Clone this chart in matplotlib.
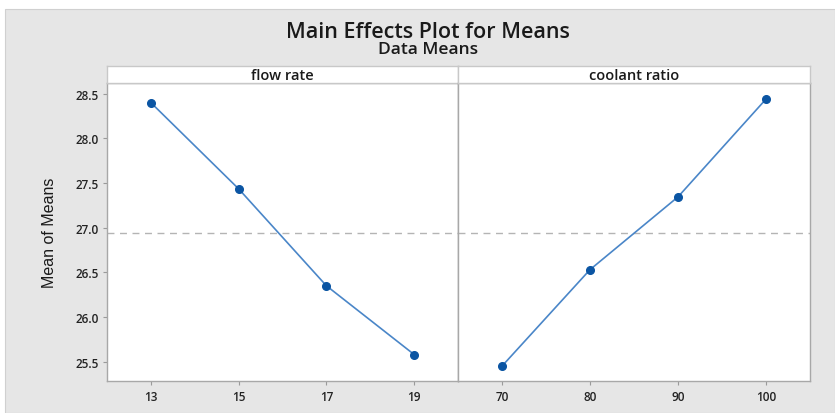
import matplotlib
matplotlib.use("Agg")
import matplotlib.pyplot as plt
from matplotlib.patches import Rectangle
import numpy as np

title = "Main Effects Plot for Means"
subtitle = "Data Means"
ylabel = "Mean of Means"
factors = ["flow rate", "coolant ratio"]
flow_levels = ["13", "15", "17", "19"]
flow_means = [28.40, 27.435, 26.35, 25.58]
coolant_levels = ["70", "80", "90", "100"]
coolant_means = [25.45, 26.53, 27.345, 28.44]
grand_mean = 26.94
yticks = [25.5, 26.0, 26.5, 27.0, 27.5, 28.0, 28.5]

W, H = 835, 414
fig = plt.figure(figsize=(W / 100, H / 100), dpi=100)
fig.patch.set_facecolor("white")
bg = Rectangle((5 / W, 0), 1 - 5 / W, 1 - 10 / H, transform=fig.transFigure,
               facecolor="#e6e6e6", edgecolor="#d0d0d0", lw=0.8, zorder=-10)
fig.add_artist(bg)

fam = ["Open Sans", "DejaVu Sans"]
fig.text(428 / W, 1 - 32.5 / H, title, ha="center", va="center", fontsize=15.5, family=fam,
         weight="semibold", color="#1a1a1a")
fig.text(428 / W, 1 - 50 / H, subtitle, ha="center", va="center", fontsize=12.5, family=fam,
         weight="semibold", color="#1a1a1a")

x0, xm, x1 = 107 / W, 458 / W, 810 / W
yb, yt, ys = 1 - 382.3 / H, 1 - 84 / H, 1 - 67 / H

line_c = "#4a86c8"
mark_c = "#0b55a3"
spine_c = "#a8a8a8"

data = [(flow_levels, flow_means), (coolant_levels, coolant_means)]
for i, (levels, means) in enumerate(data):
    left = x0 if i == 0 else xm
    width = (xm - x0) if i == 0 else (x1 - xm)
    ax = fig.add_axes([left, yb, width, yt - yb])
    ax.set_facecolor("white")
    pos = np.arange(len(levels))
    ax.plot(pos, means, color=line_c, lw=1.2, zorder=3)
    ax.plot(pos, means, "o", color=mark_c, ms=5.5, zorder=4)
    ax.axhline(grand_mean, color="#b4b4b4", lw=1.0, ls=(0, (5, 4)), zorder=2)
    ax.set_xlim(-0.5, 3.5)
    ax.set_ylim(25.28, 28.62)
    ax.set_xticks(pos)
    ax.set_xticklabels(levels, family=fam, fontsize=8.5, weight="semibold", color="#222222")
    ax.set_yticks(yticks)
    if i == 0:
        ax.set_yticklabels([f"{v:.1f}" for v in yticks], family=fam, fontsize=8.5,
                           weight="semibold", color="#222222")
        ax.set_ylabel(ylabel, family=["Liberation Sans Narrow", "Liberation Sans", "DejaVu Sans"],
                      fontsize=11.5, color="#1a1a1a", labelpad=13)
    else:
        ax.tick_params(axis="y", left=False, labelleft=False)
    ax.tick_params(axis="both", length=3, width=0.8, color="#9a9a9a", pad=3)
    for s in ax.spines.values():
        s.set_color(spine_c)
        s.set_linewidth(1.0)
    if i == 0:
        ax.spines["right"].set_color("#8a8a8a")
    # strip
    sax = fig.add_axes([left, yt, width, ys - yt])
    sax.set_facecolor("white")
    sax.set_xticks([])
    sax.set_yticks([])
    for s in sax.spines.values():
        s.set_color("#c8c8c8")
        s.set_linewidth(1.0)
    sax.text(0.5, 0.5, factors[i], ha="center", va="center", transform=sax.transAxes,
             family=fam, fontsize=10.5, weight="semibold", color="#1a1a1a")

fig.savefig("out.png", dpi=100)
